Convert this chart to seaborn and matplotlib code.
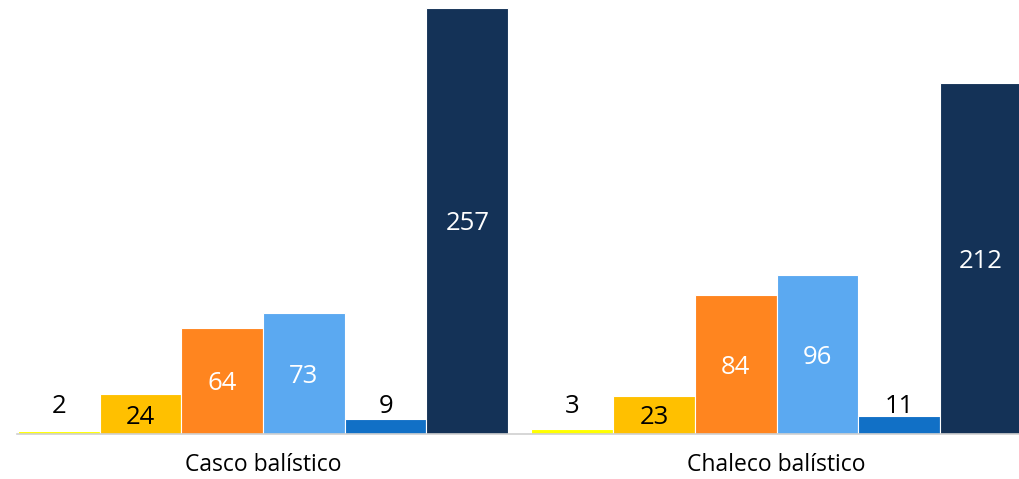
import pandas as pd
import matplotlib
matplotlib.use("Agg")
import matplotlib.pyplot as plt
import seaborn as sns

# Data
groups = ["Casco balístico", "Chaleco balístico"]
levels = ["Nivel 1", "Nivel 2", "Nivel 3", "Nivel 4", "Nivel 5", "Total"]
casco = [2, 24, 64, 73, 9, 257]
chaleco = [3, 23, 84, 96, 11, 212]
colors = ["#FFFF00", "#FFC000", "#FF851F", "#5BA9F1", "#1170C6", "#143257"]
text_colors = ["black", "black", "white", "white", "black", "white"]

df = pd.DataFrame({
    "grupo": [groups[0]] * len(levels) + [groups[1]] * len(levels),
    "nivel": levels * 2,
    "valor": casco + chaleco,
})

sns.set_style("white")
plt.rcParams["font.family"] = ["Open Sans", "DejaVu Sans"]

fig = plt.figure(figsize=(10.19, 4.79), dpi=100)
ax = fig.add_axes([17 / 1019, 45 / 479, 1 - 17 / 1019, 1 - 45 / 479])

sns.barplot(data=df, x="grupo", y="valor", hue="nivel", hue_order=levels,
            palette=colors, saturation=1, width=0.955, edgecolor="white",
            linewidth=0.8, legend=False, ax=ax)

ax.set_xlim(-0.479, 1.472)
ax.set_ylim(0, 261.8)

# value labels: centered in tall bars, on a common line above short ones
for i, cont in enumerate(ax.containers):
    for bar in cont:
        h = bar.get_height()
        xc = bar.get_x() + bar.get_width() / 2
        if h < 15:
            ax.text(xc, 12.7, f"{int(h)}", ha="center", va="baseline",
                    fontsize=18.5, color="black")
        else:
            ax.text(xc, h / 2, f"{int(h)}", ha="center", va="center_baseline",
                    fontsize=18.5, color=text_colors[i])

sns.despine(ax=ax, left=True)
ax.spines["bottom"].set_color("#D0D0D0")
ax.spines["bottom"].set_linewidth(1.2)
ax.set_yticks([])
ax.set_xlabel("")
ax.set_ylabel("")
ax.tick_params(axis="x", length=0, labelsize=16.5, pad=14, labelcolor="black")

fig.savefig("out.png", dpi=100)
